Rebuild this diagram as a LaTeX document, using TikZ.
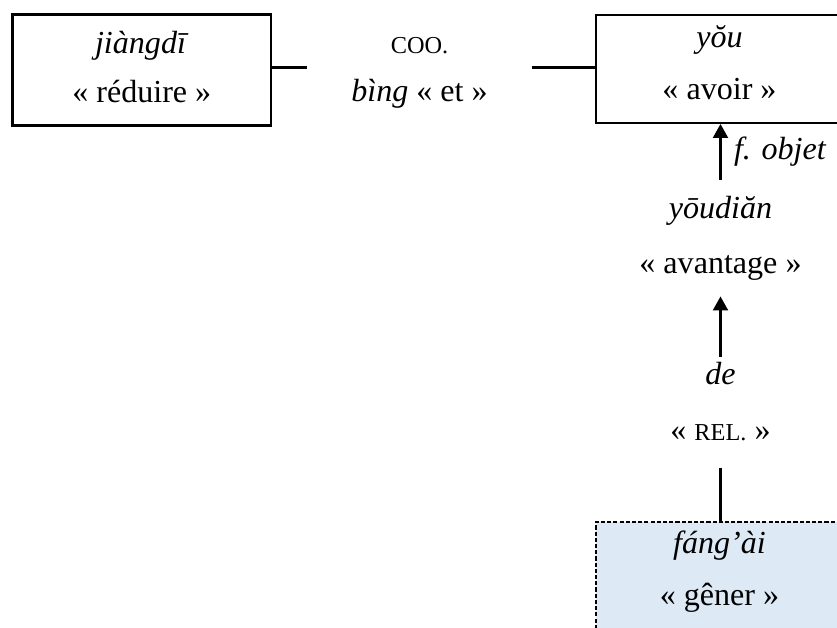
\documentclass[tikz,border=0pt]{standalone}
\usepackage{fontspec}
\setmainfont{Liberation Serif}
\usepackage{xcolor}
\usepackage{tikz}
\usetikzlibrary{arrows.meta, positioning, calc}

\definecolor{paleblue}{HTML}{DDEAF6}
\newcommand{\fakesc}[1]{{\fontsize{9.4}{11}\selectfont #1}}
% two-line gloss: total height, first baseline, line distance, text
\newcommand{\gloss}[4]{\parbox[c][#1][t]{80pt}{\centering
    \baselineskip=#3\relax\lineskiplimit=-\maxdimen
    \rule{0pt}{#2}#4\par}}

\begin{document}
\begin{tikzpicture}[
    x=0.3865pt, y=-0.3865pt,
    word/.style  = {align=center, inner sep=0pt,
                    font=\fontsize{12.4}{15}\selectfont},
    frame/.style = {word, draw=black, line width=0.8pt},
    arr/.style   = {-{Triangle[length=5.4pt,width=5.8pt]}, line width=0.8pt},
    link/.style  = {line width=0.8pt}
  ]
  \useasboundingbox (0,0) rectangle (837,628);

  % ----------------------------------------------------------------
  % Top row: two verbs joined by the coordinator
  % ----------------------------------------------------------------
  \node[frame, minimum width=99.9pt] (jiangdi) at (141.75, 70)
        {\gloss{42.9pt}{14.9pt}{19pt}{\textit{jiàngdī}\\« réduire »}};
  \node[word, minimum width=86.2pt] (bing) at (419.5, 67.5)
        {\gloss{42.1pt}{15.5pt}{18.5pt}{\fakesc{COO.}\\\textit{bìng} « et »}};
  \node[frame, minimum width=95.5pt] (you) at (719.5, 68.75)
        {\gloss{41.9pt}{12.6pt}{20.4pt}{\textit{yŏu}\\« avoir »}};

  \draw[link] (bing.west -| jiangdi.east) -- (bing.west);
  \draw[link] (bing.east) -- (bing.east -| you.west);

  % ----------------------------------------------------------------
  % Dependents of you (object, relative marker, relative verb)
  % ----------------------------------------------------------------
  \node[word] (youdian) at (720.5, 238)
        {\gloss{44.8pt}{14.7pt}{21.6pt}{\textit{yōudiăn}\\« avantage »}};
  \node[word] (de) at (720.5, 412)
        {\gloss{42.5pt}{10.8pt}{21.3pt}{\textit{de}\\« \fakesc{REL.} »}};
  % dashed box, partly off the page
  \node[frame, dash pattern=on 1.6pt off 0.8pt, line width=0.7pt,
        fill=paleblue, minimum width=95.5pt] (fangai) at (719.5, 577.5)
        {\gloss{42.9pt}{12pt}{20.1pt}{\textit{fáng’ài}\\« gêner »}};

  \draw[arr] (youdian.north) -- (you.south -| youdian.north)
        node[midway, right=1.5pt, font=\fontsize{12.4}{15}\itshape] {f. objet};
  \draw[arr] (de.north) -- (youdian.south);
  \draw[link] (de.south) -- (de.south |- fangai.north);

\end{tikzpicture}
\end{document}
